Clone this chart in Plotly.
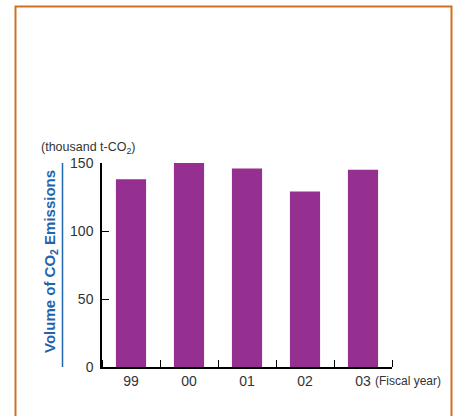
import plotly.graph_objects as go

# Fiscal years and CO2 emissions (thousand t-CO2)
fiscal_years = ["99", "00", "01", "02", "03"]
emissions = [138, 150, 146, 129, 145]
y_ticks = [0, 50, 100, 150]

W, H = 457, 416
L, R, T, B = 102, 65, 163, 49
PW, PH = W - L - R, H - T - B


def px_x(px):
    return (px - L) / PW


def px_y(py):
    return (H - B - py) / PH


FONT = "Liberation Sans, Arial, Helvetica, sans-serif"
BAR = "#952f90"
BLUE = "#1f64ad"
ORANGE = "#d0701e"

x_pos = list(range(len(fiscal_years)))

fig = go.Figure(
    go.Bar(
        x=x_pos,
        y=emissions,
        width=0.52,
        marker=dict(color=BAR, line=dict(width=0)),
        hoverinfo="skip",
    )
)

fig.update_layout(
    width=W,
    height=H,
    margin=dict(l=L, r=R, t=T, b=B),
    paper_bgcolor="white",
    plot_bgcolor="white",
    showlegend=False,
    font=dict(family=FONT, color="#333333"),
    xaxis=dict(
        range=[-0.5, len(fiscal_years) - 0.5],
        tickmode="array",
        tickvals=x_pos,
        ticktext=fiscal_years,
        ticks="",
        showgrid=False,
        zeroline=False,
        showline=True,
        linecolor="black",
        linewidth=1.5,
        tickfont=dict(size=14, color="#333333"),
        ticklabelstandoff=0,
        minor=dict(
            ticks="inside",
            tick0=0.5,
            dtick=1,
            ticklen=7,
            tickwidth=1.3,
            tickcolor="black",
            showgrid=False,
        ),
        fixedrange=True,
    ),
    yaxis=dict(
        range=[0, 150],
        tickmode="array",
        tickvals=y_ticks,
        ticks="inside",
        ticklen=7,
        tickwidth=1.3,
        tickcolor="black",
        showgrid=False,
        zeroline=False,
        showline=True,
        linecolor="black",
        linewidth=1.5,
        tickfont=dict(size=14, color="#333333"),
        ticklabelstandoff=4,
        fixedrange=True,
    ),
    shapes=[
        # orange frame around the panel
        dict(
            type="rect",
            xref="paper",
            yref="paper",
            x0=px_x(15.5),
            x1=px_x(451.5),
            y0=px_y(430),
            y1=px_y(6.5),
            line=dict(color=ORANGE, width=2),
            fillcolor="rgba(0,0,0,0)",
            layer="below",
        ),
        # blue rule beside the axis title
        dict(
            type="line",
            xref="paper",
            yref="paper",
            x0=px_x(62.5),
            x1=px_x(62.5),
            y0=0,
            y1=1,
            line=dict(color=BLUE, width=1.5),
        ),
    ],
    annotations=[
        dict(
            text="<b>Volume of CO<sub>2</sub> Emissions</b>",
            xref="paper",
            yref="paper",
            x=px_x(50),
            y=px_y(262),
            textangle=-90,
            showarrow=False,
            font=dict(size=15, color=BLUE, family=FONT),
            xanchor="center",
            yanchor="middle",
        ),
        dict(
            text="(thousand t-CO<sub>2</sub>)",
            xref="paper",
            yref="paper",
            x=px_x(39),
            y=px_y(148),
            showarrow=False,
            font=dict(size=12.5, color="#333333", family=FONT),
            xanchor="left",
            yanchor="middle",
        ),
        dict(
            text="(Fiscal year)",
            xref="paper",
            yref="paper",
            x=px_x(373),
            y=px_y(381),
            showarrow=False,
            font=dict(size=12, color="#333333", family=FONT),
            xanchor="left",
            yanchor="middle",
        ),
    ],
)

fig.write_html("out.html")
